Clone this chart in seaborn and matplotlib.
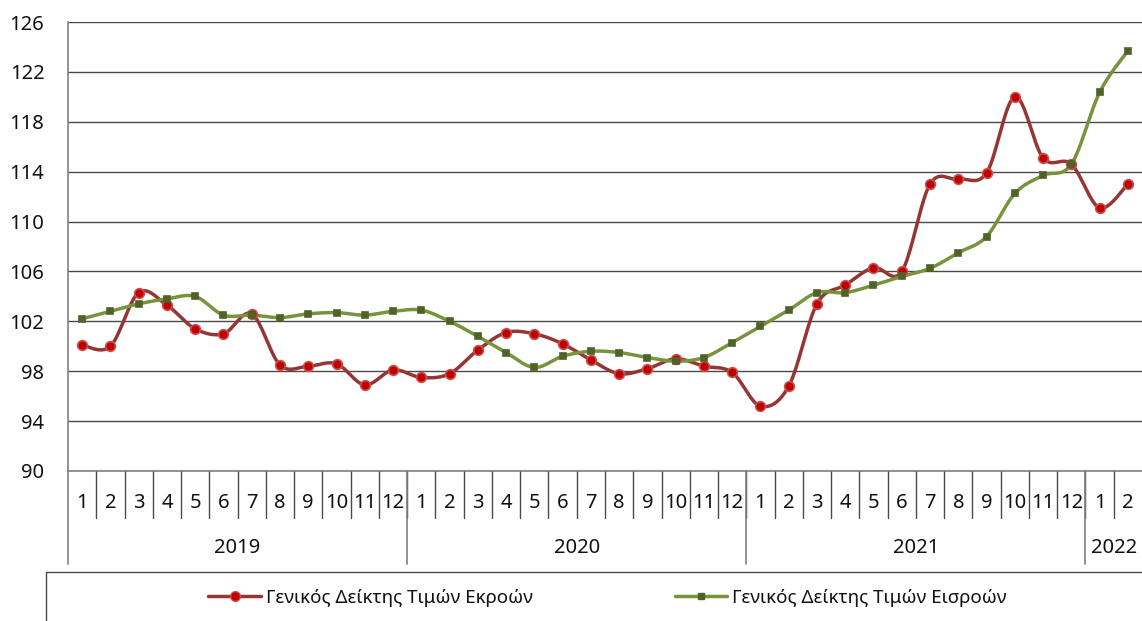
import numpy as np
import pandas as pd
import matplotlib
matplotlib.use('Agg')
import matplotlib.pyplot as plt
from matplotlib.lines import Line2D
import seaborn as sns

sns.set_style('white')
plt.rcParams['font.family'] = ['Noto Sans', 'DejaVu Sans']

YEARS = ['2019', '2020', '2021', '2022']
MONTHS_PER_YEAR = [12, 12, 12, 2]
MONTHS = [str(m) for n in MONTHS_PER_YEAR for m in range(1, n + 1)]

OUTPUT_LABEL = 'Γενικός Δείκτης Τιμών Εκροών'
INPUT_LABEL = 'Γενικός Δείκτης Τιμών Εισροών'

output_idx = [100.1, 100.0, 104.3, 103.3, 101.4, 101.0, 102.6, 98.5, 98.4, 98.6, 96.9, 98.1,
              97.5, 97.8, 99.7, 101.1, 101.0, 100.2, 98.9, 97.8, 98.2, 99.0, 98.4, 97.9,
              95.2, 96.8, 103.4, 104.9, 106.3, 106.0, 113.0, 113.4, 113.9, 120.0, 115.1, 114.6,
              111.1, 113.0]
input_idx = [102.2, 102.8, 103.4, 103.8, 104.0, 102.5, 102.5, 102.3, 102.6, 102.7, 102.5, 102.8,
             102.9, 102.0, 100.8, 99.5, 98.3, 99.2, 99.6, 99.5, 99.1, 98.8, 99.1, 100.3,
             101.6, 102.9, 104.3, 104.3, 104.9, 105.6, 106.25, 107.5, 108.8, 112.25, 113.7, 114.6,
             120.35, 123.7]

RED_LINE, RED_MARK, RED_EDGE = '#943634', '#C00000', '#C8504D'
GREEN_LINE, GREEN_MARK = '#77933C', '#4F6228'


def smooth(y, n=20):
    # excel style smoothed line (catmull-rom through the points)
    y = np.asarray(y, float)
    x = np.arange(len(y), dtype=float)
    p = np.column_stack([x, y])
    p = np.vstack([p[0], p, p[-1]])
    out = []
    t = np.linspace(0, 1, n, endpoint=False)[:, None]
    for i in range(1, len(p) - 2):
        p0, p1, p2, p3 = p[i - 1], p[i], p[i + 1], p[i + 2]
        c1 = p1 + (p2 - p0) / 6
        c2 = p2 - (p3 - p1) / 6
        seg = ((1 - t) ** 3) * p1 + 3 * ((1 - t) ** 2) * t * c1 + 3 * (1 - t) * t ** 2 * c2 + t ** 3 * p2
        out.append(seg)
    out.append(p[-2][None, :])
    out = np.vstack(out)
    return out[:, 0], out[:, 1]


fig = plt.figure(figsize=(11.42, 6.21), dpi=100)
ax = fig.add_axes([68 / 1142, 1 - 471 / 621, 1 - 68 / 1142, 449 / 621])

x = np.arange(len(MONTHS))
for vals, lc, mk, mfc, mec, ms in [(output_idx, RED_LINE, 'o', RED_MARK, RED_EDGE, 7),
                                    (input_idx, GREEN_LINE, 's', GREEN_MARK, GREEN_MARK, 5)]:
    sx, sy = smooth(vals)
    sns.lineplot(x=sx, y=sy, ax=ax, color=lc, lw=2.5, sort=False, zorder=3)
    ax.plot(x, vals, ls='none', marker=mk, ms=ms, mfc=mfc, mec=mec, mew=1.2, zorder=4)

ax.set_xlim(-0.5, len(MONTHS) - 0.5)
ax.set_ylim(90, 126)
ax.set_yticks(np.arange(90, 127, 4))
ax.set_yticks(np.arange(90, 127, 1), minor=True)
ax.yaxis.grid(True, which='major', color='#4a4a4a', lw=1)
ax.set_axisbelow(True)
for s in ['top', 'right']:
    ax.spines[s].set_visible(False)
for s in ['left', 'bottom']:
    ax.spines[s].set_color('#808080')
    ax.spines[s].set_linewidth(1.2)
ax.tick_params(axis='y', which='major', direction='out', length=6, width=1, color='#4a4a4a',
               labelsize=14.5, pad=11, labelcolor='#111111')
ax.tick_params(axis='y', which='minor', direction='in', length=5, width=1, color='#4a4a4a')
ax.set_xticks(x)
ax.set_xticklabels([])
ax.tick_params(axis='x', which='major', direction='in', length=5, width=1, color='#4a4a4a')

trans = ax.get_xaxis_transform()
for i, m in enumerate(MONTHS):
    ax.text(i, -0.071, m, transform=trans, ha='center', va='center', fontsize=14.5, color='#111111')
for b in range(1, len(MONTHS)):
    ax.plot([b - 0.5, b - 0.5], [0, -0.105], transform=trans, color='#4a4a4a', lw=1, clip_on=False)

start = 0
bounds = [0]
for yr, n in zip(YEARS, MONTHS_PER_YEAR):
    ax.text(start + (n - 1) / 2, -0.171, yr, transform=trans, ha='center', va='center',
            fontsize=14.5, color='#111111')
    start += n
    bounds.append(start)
for b in bounds[:-1]:
    ax.plot([b - 0.5, b - 0.5], [0, -0.207], transform=trans, color='#808080', lw=1.2, clip_on=False)

# legend box
yb = 1 - 572 / 621
fig.add_artist(Line2D([46 / 1142, 1], [yb, yb], transform=fig.transFigure, color='#4a4a4a', lw=1))
fig.add_artist(Line2D([46 / 1142, 46 / 1142], [0, yb], transform=fig.transFigure, color='#4a4a4a', lw=1))

handles = [Line2D([], [], color=RED_LINE, lw=2.5, marker='o', ms=7, mfc=RED_MARK, mec=RED_EDGE),
           Line2D([], [], color=GREEN_LINE, lw=2.5, marker='s', ms=5, mfc=GREEN_MARK, mec=GREEN_MARK)]
fig.legend(handles, [OUTPUT_LABEL, INPUT_LABEL], loc='center', bbox_to_anchor=(0.532, 1 - 598 / 621),
           ncol=2, frameon=False, fontsize=13.5, handlelength=2.8, handletextpad=0.25,
           columnspacing=7.6, labelcolor='#111111')

fig.savefig('out.png', dpi=100)
